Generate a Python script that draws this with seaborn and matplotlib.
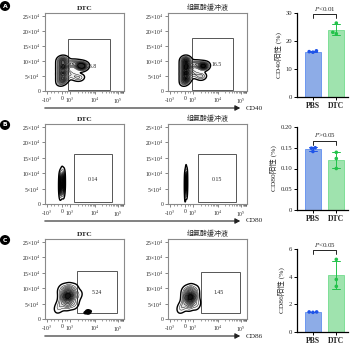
import numpy as np
import pandas as pd
import matplotlib
matplotlib.use("Agg")
import matplotlib.pyplot as plt
from matplotlib.patches import Rectangle, Circle
import seaborn as sns

sns.set_theme(style="white")
plt.rcParams['font.family'] = ['Liberation Serif', 'Noto Sans CJK SC', 'DejaVu Sans']
plt.rcParams['mathtext.fontset'] = 'stix'

# ---------------- data ----------------
groups = ["PBS", "DTC"]
cd40_pbs = [16.0, 16.5, 16.2]
cd40_dtc = [26.4, 23.1, 22.6]
cd80_pbs = [0.150, 0.149, 0.141]
cd80_dtc = [0.139, 0.124, 0.100]
cd86_pbs = [1.42, 1.45, 1.45]
cd86_dtc = [5.25, 3.80, 3.30]
markers = ["CD40", "CD80", "CD86"]
bar_ylims = [30, 0.20, 6]
bar_yticks = [[0, 10, 20, 30], [0, 0.05, 0.10, 0.15, 0.20], [0, 2, 4, 6]]
bar_yticklabels = [["0", "10", "20", "30"], ["0", "0.05", "0.10", "0.15", "0.20"], ["0", "2", "4", "6"]]
p_texts = ["<0.01", ">0.05", "<0.05"]

flow_titles = ["DTC", "组氨酸缓冲液"]
flow_yticks = [0, 5, 10, 15, 20, 25]
flow_yticklabels = ["0", "5×10$^4$", "10×10$^4$", "15×10$^4$", "20×10$^4$", "25×10$^4$"]
flow_xticks = [2.5, 21.5, 31.6, 63.5, 92.4]
flow_xticklabels = ["-10$^3$", "0", "10$^3$", "10$^4$", "10$^5$"]
gate_pcts = [["26.8", "16.5"], ["0.14", "0.15"], ["5.24", "1.45"]]
gate_x0 = [[29.1, 30.4], [36.7, 38.0], [40.5, 41.8]]
gate_x1 = [[82.3, 82.3], [84.8, 86.0], [91.0, 91.0]]
gate_y0 = [[0.3, 0.3], [0.6, 0.6], [2.0, 2.0]]
gate_y1 = [[17.3, 17.7], [16.2, 16.2], [15.5, 15.2]]
label_x = [[52.5, 55.0], [61.0, 62.0], [66.0, 64.5]]
label_y = [[8.3, 8.7], [8.1, 8.1], [8.7, 8.7]]

# event density anchors (x channel, y in 10^4)
a1_x = [21, 21, 21, 21, 21, 21, 24, 24, 24, 24, 28, 32, 36, 40, 44, 47, 49, 30, 35, 40, 45]
a1_y = [3, 4.5, 6, 7.5, 9, 10.5, 4, 6, 8, 10, 8.8, 9.2, 9.3, 9.0, 8.6, 8.3, 8.0, 6.0, 5.2, 4.6, 4.4]
a1_w = [2, 2, 2, 2, 2, 2, 2, 2, 2, 2, 1, 1, 1, 1.5, 2.5, 3, 2, 1, 1, 1, 1]
a2_x = [21, 21, 21, 21, 21, 21, 24, 24, 24, 24, 28, 32, 36, 40, 44, 47, 30, 35, 40, 44]
a2_y = [3, 4.5, 6, 7.5, 9, 10.5, 4, 6, 8, 10, 8.6, 9.0, 9.0, 8.7, 8.4, 8.2, 6.2, 5.5, 5.0, 4.8]
a2_w = [2, 2, 2, 2, 2, 2, 2, 2, 2, 2, 1, 1, 1, 1.5, 2.5, 2.5, 1, 1, 1, 1]
b1_x = [19.5, 23.5, 19.5, 23.5, 19.5, 23.5, 19.5, 23.5, 21.5, 21.5]
b1_y = [3, 3.5, 5, 5.5, 7, 7.5, 9, 9.5, 10.5, 4.2]
b1_w = [1, 1, 3, 3, 3, 3, 2, 2, 1, 2]
b2_x = [21.8, 23.8, 21.8, 23.8, 21.8, 23.8, 21.8, 23.8, 22.8, 22.8]
b2_y = [2.5, 3.5, 5, 5.5, 7, 7.5, 9, 9.5, 11, 4.2]
b2_w = [1, 1, 3, 3, 3, 3, 2, 2, 1, 2]
c1_x = [29, 24, 34, 29, 29, 21, 37, 22, 36, 17, 42]
c1_y = [7.4, 7.4, 7.4, 5, 9.5, 5, 5, 9.5, 9.5, 3.5, 7.8]
c1_w = [6, 3, 3, 3, 3, 1.5, 1.5, 1.5, 1.5, 1, 1]
c1s_x = [52, 55, 54, 56]
c1s_y = [2.1, 2.0, 2.6, 2.4]
c1s_w = [1, 1, 1, 1]
c2_x = [28, 23, 33, 28, 28, 20, 36, 22, 34, 16]
c2_y = [7.0, 7.0, 7.0, 4.8, 9.2, 4.5, 4.8, 9.0, 9.0, 3.5]
c2_w = [6, 3, 3, 3, 3, 1.5, 1.5, 1.5, 1.5, 1]
blobs = [[[(a1_x, a1_y, a1_w)], [(a2_x, a2_y, a2_w)]],
         [[(b1_x, b1_y, b1_w)], [(b2_x, b2_y, b2_w)]],
         [[(c1_x, c1_y, c1_w), (c1s_x, c1s_y, c1s_w)], [(c2_x, c2_y, c2_w)]]]
blob_bw = [0.6, 0.8, 0.9]

bar_data = [(cd40_pbs, cd40_dtc), (cd80_pbs, cd80_dtc), (cd86_pbs, cd86_dtc)]
bar_fill = ["#7ea8f6", "#93efa8"]
bar_edge = ["#4a7ff0", "#5fd97e"]
dot_col = ["#1f54e8", "#22c24a"]

# ---------------- layout ----------------
W, H = 357, 344
fig = plt.figure(figsize=(W / 100, H / 100), dpi=100)

def fa(l, t, w, h):
    return [l / W, 1 - (t + h) / H, w / W, h / H]

flow_rows = [(13, 78), (124, 80), (239, 80)]
flow_cols = [45, 168]
bar_rows = [(13, 84), (127, 83), (249, 83)]
arrow_y = [108, 221, 336]
circle_y = [6, 125, 240]
gray = "#8a8a8a"

minor = []
for base, nxt in [(31.6, 63.5), (63.5, 92.4)]:
    for k in range(2, 10):
        minor.append(base + (nxt - base) * np.log10(k))
for k in range(2, 10):
    minor.append(92.4 + (92.4 - 63.5) * np.log10(k) * 0.25)
minor += [8, 12, 16, 25, 28]

for r in range(3):
    top, hh = flow_rows[r]
    for c in range(2):
        ax = fig.add_axes(fa(flow_cols[c], top, 79, hh))
        for bx, by, bw in blobs[r][c]:
            df = pd.DataFrame({"x": bx, "y": by, "w": bw})
            sns.kdeplot(data=df, x="x", y="y", weights="w", ax=ax, fill=True,
                        cmap="Greys", levels=11, thresh=0.04,
                        bw_adjust=blob_bw[r], warn_singular=False)
            sns.kdeplot(data=df, x="x", y="y", weights="w", ax=ax, fill=False,
                        colors="black", levels=11, thresh=0.04,
                        bw_adjust=blob_bw[r], warn_singular=False,
                        linewidths=[1.0] + [0.3] * 10)
        ax.add_patch(Rectangle((gate_x0[r][c], gate_y0[r][c]),
                               gate_x1[r][c] - gate_x0[r][c],
                               gate_y1[r][c] - gate_y0[r][c],
                               fill=False, ec="#555555", lw=0.7))
        ax.text(label_x[r][c], label_y[r][c], gate_pcts[r][c], fontsize=4.2,
                ha="left" if r == 0 else "center", va="center")
        ax.set_xlim(0, 100)
        ax.set_ylim(0, 26)
        ax.set_xticks(flow_xticks)
        ax.set_xticklabels(flow_xticklabels, fontsize=4.1)
        ax.set_xticks(minor, minor=True)
        ax.set_yticks(flow_yticks)
        ax.set_yticklabels(flow_yticklabels, fontsize=4.1)
        ax.set_xlabel("")
        ax.set_ylabel("")
        ax.tick_params(axis="both", which="major", direction="out", length=2,
                       width=0.5, color="#555555", pad=1.5, bottom=True, left=True)
        ax.tick_params(axis="x", which="minor", direction="out", length=1.2,
                       width=0.4, color="#555555", bottom=True)
        for s in ax.spines.values():
            s.set_color(gray)
            s.set_linewidth(0.8)
        if c == 0:
            ax.set_title(flow_titles[c], fontsize=5.4, pad=2, fontweight="bold")
        else:
            ax.set_title(flow_titles[c], fontsize=5.0, pad=2)

    # long arrow axis
    y = 1 - arrow_y[r] / H
    fig.add_artist(matplotlib.patches.FancyArrowPatch(
        (42 / W, y), (243 / W, y), transform=fig.transFigure,
        arrowstyle="-|>,head_length=3,head_width=1.6", lw=0.8, color="#222222",
        mutation_scale=1))
    fig.text(246 / W, y, markers[r], fontsize=5.2, va="center", ha="left")

    # panel letter
    cy = 1 - circle_y[r] / H
    fig.add_artist(Circle((5 / W, cy), 4.4 / W, transform=fig.transFigure,
                          color="black"))
    fig.text(5 / W, cy, "ABC"[r], color="white", fontsize=4.4, fontweight="bold",
             ha="center", va="center", family="DejaVu Sans")

    # bar chart
    btop, bh = bar_rows[r]
    bax = fig.add_axes(fa(297, btop, 51, bh))
    pbs, dtc = bar_data[r]
    df = pd.DataFrame({"group": ["PBS"] * len(pbs) + ["DTC"] * len(dtc),
                       "value": list(pbs) + list(dtc)})
    for gi, g in enumerate(groups):
        sns.barplot(data=df[df.group == g], x="group", y="value", order=groups,
                    color=bar_fill[gi], errorbar="sd", capsize=0.35, width=0.68,
                    err_kws={"color": dot_col[gi], "linewidth": 0.7},
                    edgecolor=bar_edge[gi], linewidth=0.5, ax=bax)
    sns.swarmplot(data=df, x="group", y="value", order=groups, hue="group",
                  hue_order=groups, palette=dot_col, size=2.6,
                  legend=False, ax=bax, zorder=5)
    ymax = bar_ylims[r]
    bax.set_ylim(0, ymax)
    bax.set_xlim(-0.68, 1.5)
    bax.set_yticks(bar_yticks[r])
    bax.set_yticklabels(bar_yticklabels[r], fontsize=4.8)
    bax.set_xticks([0, 1])
    bax.set_xticklabels(groups, fontsize=5.6, fontweight="bold")
    bax.set_xlabel("")
    bax.set_ylabel(f"{markers[r]}阳性 (%)", fontsize=5.4, labelpad=2.5)
    sns.despine(ax=bax)
    for s in ["left", "bottom"]:
        bax.spines[s].set_color("black")
        bax.spines[s].set_linewidth(0.9)
    bax.tick_params(axis="both", direction="out", length=2, width=0.7,
                    color="black", pad=1.5, left=True, bottom=True)
    # significance bracket
    by_top = ymax * (0.985 if r != 1 else 0.835)
    by_leg = by_top - ymax * 0.05
    bax.plot([0, 0, 1, 1], [by_leg, by_top, by_top, by_leg], color="black",
             lw=0.6, clip_on=False)
    bax.text(0.5, by_top + ymax * 0.015, "$P$" + p_texts[r], ha="center",
             va="bottom", fontsize=5.0)

fig.savefig("out.png", dpi=100)
